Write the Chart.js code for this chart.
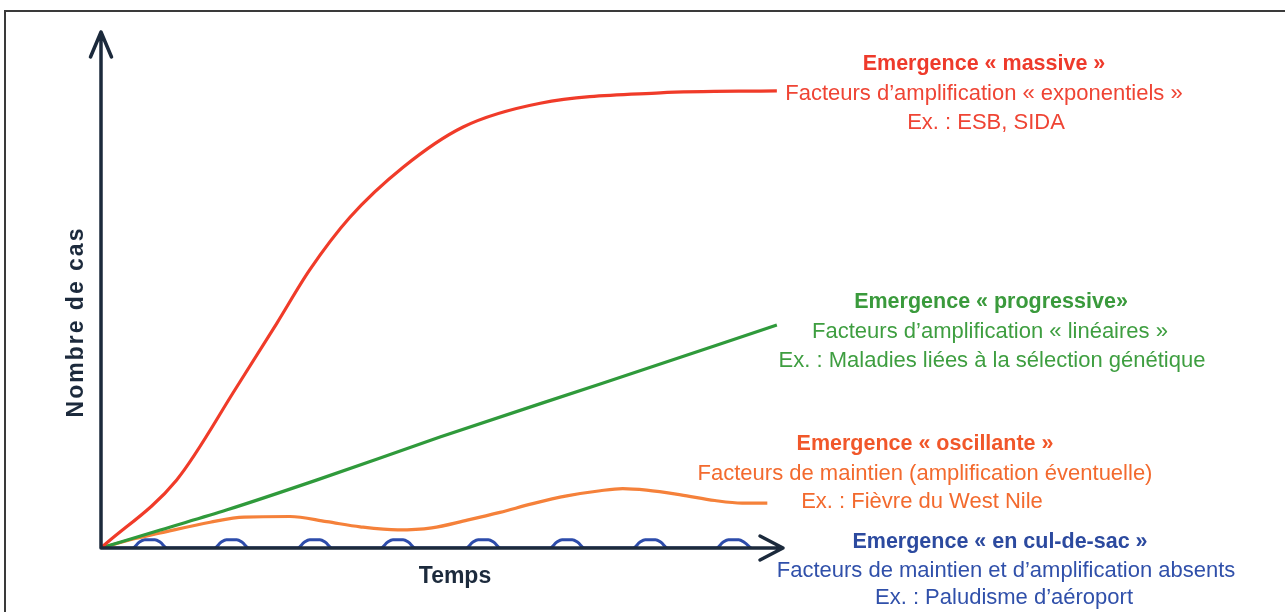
<!DOCTYPE html>
<html>
<head>
<meta charset="utf-8">
<script src="https://cdn.jsdelivr.net/npm/chart.js@4.4.1/dist/chart.umd.min.js"></script>
<style>
  html, body { margin: 0; padding: 0; background: #fff; }
  #wrap { width: 1285px; height: 612px; position: relative; }
</style>
</head>
<body>
<div id="wrap"><canvas id="emergenceChart"></canvas></div>
<script>
//==================================== Data ====================================

// Emergence "massive" (red)
var tempsMassive = [0, 11.1, 19.9, 25.8, 30.6, 36.5, 44.3, 53.1, 64.4, 82.0, 99.1];
var casMassive = [0, 13.2, 31.2, 43.6, 53.9, 64.1, 73.8, 81.6, 86.2, 88.2, 88.6];

// Emergence "progressive" (green)
var tempsProgressive = [0, 8.7, 18.5, 31.7, 49.7, 73.2, 99.1];
var casProgressive = [0, 3.5, 7.4, 13.2, 21.5, 31.8, 43.2];

// Emergence "oscillante" (orange)
var tempsOscillante = [0, 4.3, 8.7, 16.0, 21.0, 27.7, 33.1, 38.0, 43.5, 48.5, 53.7, 58.5, 63.3, 68.3, 73.2, 76.5, 80.0, 85.0, 90.0, 94.0, 97.7];
var casOscillante = [0, 1.6, 2.9, 5.0, 6.0, 6.1, 5.1, 4.1, 3.5, 3.9, 5.4, 6.9, 8.6, 10.1, 11.1, 11.5, 11.2, 10.3, 9.2, 8.7, 8.7];

// Emergence "en cul-de-sac" (blue) - small isolated bumps
var tempsCulDeSac = [0,
    4.6, 5.6, 6.4, 7.9, 8.7, 9.7,
    16.6, 17.6, 18.4, 19.9, 20.7, 21.7,
    28.8, 29.8, 30.6, 32.1, 32.9, 33.9,
    41.0, 42.0, 42.8, 44.3, 45.1, 46.1,
    53.5, 54.5, 55.3, 56.8, 57.6, 58.6,
    65.8, 66.8, 67.6, 69.1, 69.9, 70.9,
    78.0, 79.0, 79.8, 81.3, 82.1, 83.1,
    90.2, 91.2, 92.0, 93.5, 94.3, 95.3];
var casCulDeSac = [0,
    0, 1.1, 1.6, 1.6, 1.1, 0,
    0, 1.1, 1.6, 1.6, 1.1, 0,
    0, 1.1, 1.6, 1.6, 1.1, 0,
    0, 1.1, 1.6, 1.6, 1.1, 0,
    0, 1.1, 1.6, 1.6, 1.1, 0,
    0, 1.1, 1.6, 1.6, 1.1, 0,
    0, 1.1, 1.6, 1.6, 1.1, 0,
    0, 1.1, 1.6, 1.6, 1.1, 0];

// Axis titles
var axisTitleX = "Temps";
var axisTitleY = "Nombre de cas";

// Annotation texts (title, then two lines)
var texteMassive = ["Emergence « massive »", "Facteurs d\u2019amplification « exponentiels »", "Ex. : ESB, SIDA"];
var texteProgressive = ["Emergence « progressive»", "Facteurs d\u2019amplification « linéaires »", "Ex. : Maladies liées à la sélection génétique"];
var texteOscillante = ["Emergence « oscillante »", "Facteurs de maintien (amplification éventuelle)", "Ex. : Fièvre du West Nile"];
var texteCulDeSac = ["Emergence « en cul-de-sac »", "Facteurs de maintien et d\u2019amplification absents", "Ex. : Paludisme d\u2019aéroport"];

//==================================== Helpers ====================================

function toPoints(xs, ys) {
    return xs.map(function(v, i) {
        return { x: v, y: ys[i] };
    });
}

var FONT = "'Liberation Sans', Arial, Helvetica, sans-serif";
var AXIS_COLOR = "#1c2a3c";

// where each annotation block sits (centre x, baselines)
var blocs = [
    { lines: texteMassive,     cx: [984, 984, 986],   by: [70, 100, 129],  colors: ["#ee3a2b", "#ef4434", "#ef4434"] },
    { lines: texteProgressive, cx: [991, 990, 992],   by: [308, 338, 367], colors: ["#3a9a3c", "#3e9e40", "#3e9e40"] },
    { lines: texteOscillante,  cx: [925, 925, 922],   by: [450, 480, 508], colors: ["#f1572a", "#f36a2e", "#f36a2e"] },
    { lines: texteCulDeSac,    cx: [1000, 1006, 1004], by: [548, 577, 604], colors: ["#2c4a9f", "#3050aa", "#3050aa"] }
];

//==================================== Decoration plugin ====================================

var decorPlugin = {
    id: 'decor',
    beforeDraw: function(chart) {
        var ctx = chart.ctx;
        ctx.save();
        ctx.fillStyle = '#ffffff';
        ctx.fillRect(0, 0, chart.width, chart.height);
        // scan frame (left and top edges)
        ctx.strokeStyle = '#3a3a3a';
        ctx.lineWidth = 2;
        ctx.beginPath();
        ctx.moveTo(5, chart.height);
        ctx.lineTo(5, 11);
        ctx.lineTo(chart.width, 11);
        ctx.stroke();
        ctx.restore();
    },
    afterDatasetsDraw: function(chart) {
        var ctx = chart.ctx;
        var xs = chart.scales.x, ys = chart.scales.y;
        var x0 = xs.getPixelForValue(0), y0 = ys.getPixelForValue(0);
        var xEnd = xs.getPixelForValue(100), yEnd = ys.getPixelForValue(100);
        ctx.save();
        ctx.strokeStyle = AXIS_COLOR;
        ctx.lineWidth = 3.5;
        ctx.lineCap = 'round';
        ctx.lineJoin = 'round';
        ctx.beginPath();
        ctx.moveTo(x0, y0);
        ctx.lineTo(x0, yEnd);
        ctx.moveTo(x0 - 10.5, yEnd + 25);
        ctx.lineTo(x0, yEnd);
        ctx.lineTo(x0 + 10.5, yEnd + 25);
        ctx.moveTo(x0, y0);
        ctx.lineTo(xEnd, y0);
        ctx.moveTo(xEnd - 23, y0 - 12);
        ctx.lineTo(xEnd, y0);
        ctx.lineTo(xEnd - 23, y0 + 12);
        ctx.stroke();
        ctx.restore();
    },
    afterDraw: function(chart) {
        var ctx = chart.ctx;
        ctx.save();
        ctx.textAlign = 'center';
        ctx.textBaseline = 'alphabetic';
        blocs.forEach(function(b) {
            b.lines.forEach(function(txt, i) {
                ctx.font = (i === 0 ? 'bold 21.5px ' : '22px ') + FONT;
                ctx.fillStyle = b.colors[i];
                ctx.fillText(txt, b.cx[i], b.by[i]);
            });
        });
        // axis titles
        ctx.fillStyle = AXIS_COLOR;
        ctx.font = 'bold 23px ' + FONT;
        ctx.fillText(axisTitleX, 455, 583);
        ctx.translate(83, 322);
        ctx.rotate(-Math.PI / 2);
        if ('letterSpacing' in ctx) ctx.letterSpacing = '2px';
        ctx.fillText(axisTitleY, 0, 0);
        ctx.restore();
    }
};

//==================================== Chart ====================================

var chrt = document.getElementById("emergenceChart").getContext("2d");
var config = {
    type: 'line',
    data: {
        datasets: [{
            label: texteMassive[0],
            data: toPoints(tempsMassive, casMassive),
            borderColor: '#f03b29',
            borderWidth: 3.2,
            cubicInterpolationMode: 'monotone'
        }, {
            label: texteProgressive[0],
            data: toPoints(tempsProgressive, casProgressive),
            borderColor: '#2f9a3b',
            borderWidth: 3.2,
            cubicInterpolationMode: 'monotone'
        }, {
            label: texteOscillante[0],
            data: toPoints(tempsOscillante, casOscillante),
            borderColor: '#f5813a',
            borderWidth: 3.2,
            cubicInterpolationMode: 'monotone'
        }, {
            label: texteCulDeSac[0],
            data: toPoints(tempsCulDeSac, casCulDeSac),
            borderColor: '#2d4cab',
            borderWidth: 3,
            cubicInterpolationMode: 'monotone'
        }]
    },
    options: {
        responsive: true,
        maintainAspectRatio: false,
        devicePixelRatio: 1,
        animation: false,
        events: [],
        elements: {
            point: { radius: 0 },
            line: { fill: false }
        },
        layout: {
            autoPadding: false,
            padding: { left: 101, right: 502, top: 32, bottom: 64 }
        },
        scales: {
            x: { type: 'linear', min: 0, max: 100, display: false },
            y: { type: 'linear', min: 0, max: 100, display: false }
        },
        plugins: {
            legend: { display: false },
            tooltip: { enabled: false },
            title: { display: false }
        }
    },
    plugins: [decorPlugin]
};

var emergenceChart = new Chart(chrt, config);
</script>
</body>
</html>
